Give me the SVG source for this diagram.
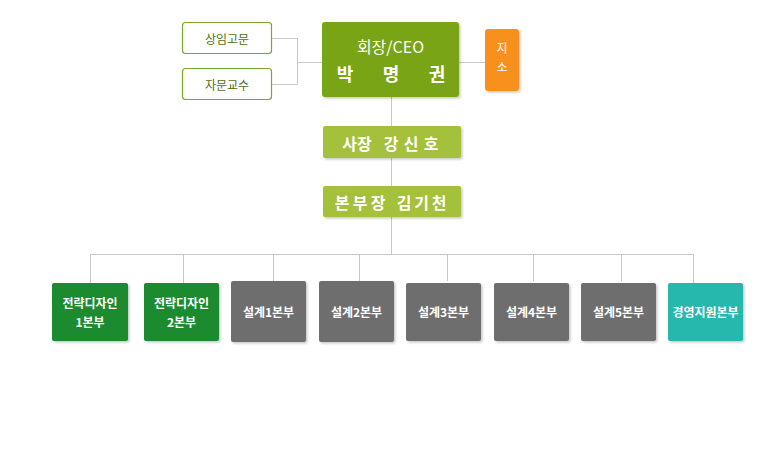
<svg xmlns="http://www.w3.org/2000/svg" width="769" height="470" viewBox="0 0 769 470">
<defs>
<filter id="sh" x="-10%" y="-10%" width="130%" height="130%">
<feDropShadow dx="1.5" dy="1.5" stdDeviation="1" flood-color="#000" flood-opacity="0.22"/>
</filter>
<style>
text{font-family:"Noto Sans CJK KR","Liberation Sans",sans-serif;text-anchor:middle;dominant-baseline:central}
.ln{stroke:#c8c8c8;stroke-width:1;fill:none}
.adv{fill:#fff;stroke:#7aa829;stroke-width:1.2}
.advt{fill:#4f6e14;font-size:12px}
.w{fill:#fff;font-weight:bold}
.bt{fill:#fff;font-weight:bold;font-size:12px}
</style>
</defs>
<rect width="769" height="470" fill="#fff"/>
<g id="connectors">
<path class="ln" d="M271.5,38.5H297.5V84.5H271.5M297.5,62.5H322M459,62.5H485"/>
<path class="ln" d="M391.5,97V126M391.5,158V186M391.5,217V254.5M90.5,254.5H693.5"/>
<path class="ln" d="M90.5,254.5V283M183.5,254.5V283M273.5,254.5V281M359.5,254.5V281M447.5,254.5V281M533.5,254.5V281M621.5,254.5V281M693.5,254.5V283"/>
</g>
<g id="adv1"><rect class="adv" x="182.5" y="22.5" width="89" height="31" rx="3"/><text class="advt" x="227" y="38">상임고문</text></g>
<g id="adv2"><rect class="adv" x="182.5" y="68.5" width="89" height="31" rx="3"/><text class="advt" x="227" y="84">자문교수</text></g>
<g id="ceo"><rect x="322" y="22" width="137" height="75" rx="3" fill="#78a419" filter="url(#sh)"/>
<text x="390.5" y="46" fill="#fff" font-size="16">회장/CEO</text>
<text class="w" x="345" y="73" font-size="18">박</text>
<text class="w" x="391" y="73" font-size="18">명</text>
<text class="w" x="437" y="73" font-size="18">권</text></g>
<g id="branch"><rect x="485" y="29" width="34" height="62" rx="3" fill="#f7901e" filter="url(#sh)"/>
<text x="502" y="47" fill="#fff" font-size="12">지</text><text x="502" y="66" fill="#fff" font-size="12">소</text></g>
<g id="president"><rect x="323" y="126" width="138" height="32" rx="2" fill="#a5c03b" filter="url(#sh)"/>
<text class="w" font-size="16" y="142.5"><tspan x="357">사장</tspan><tspan x="391">강</tspan><tspan x="411">신</tspan><tspan x="431">호</tspan></text></g>
<g id="director"><rect x="323" y="186" width="138" height="31" rx="2" fill="#a5c03b" filter="url(#sh)"/>
<text class="w" font-size="16" y="202"><tspan x="342">본</tspan><tspan x="360">부</tspan><tspan x="378">장</tspan><tspan x="404">김</tspan><tspan x="421.5">기</tspan><tspan x="439">천</tspan></text></g>
<g id="d1"><rect x="52" y="283" width="76" height="58" rx="2" fill="#1a8a2e" filter="url(#sh)"/><text class="bt" x="90" y="302">전략디자인</text><text class="bt" x="90" y="321">1본부</text></g>
<g id="d2"><rect x="144" y="283" width="75" height="58" rx="2" fill="#1a8a2e" filter="url(#sh)"/><text class="bt" x="181.5" y="302">전략디자인</text><text class="bt" x="181.5" y="321">2본부</text></g>
<g id="e1"><rect x="231" y="281" width="75" height="61" rx="2" fill="#6e6e6e" filter="url(#sh)"/><text class="bt" x="268.5" y="311">설계1본부</text></g>
<g id="e2"><rect x="319" y="281" width="75" height="61" rx="2" fill="#6e6e6e" filter="url(#sh)"/><text class="bt" x="356.5" y="311">설계2본부</text></g>
<g id="e3"><rect x="406" y="283" width="75" height="58" rx="2" fill="#6e6e6e" filter="url(#sh)"/><text class="bt" x="443.5" y="311">설계3본부</text></g>
<g id="e4"><rect x="494" y="283" width="75" height="58" rx="2" fill="#6e6e6e" filter="url(#sh)"/><text class="bt" x="531.5" y="311">설계4본부</text></g>
<g id="e5"><rect x="581" y="283" width="75" height="58" rx="2" fill="#6e6e6e" filter="url(#sh)"/><text class="bt" x="618.5" y="311">설계5본부</text></g>
<g id="m"><rect x="668" y="283" width="75" height="58" rx="2" fill="#26b8ad" filter="url(#sh)"/><text class="bt" x="705.5" y="311">경영지원본부</text></g>
</svg>
